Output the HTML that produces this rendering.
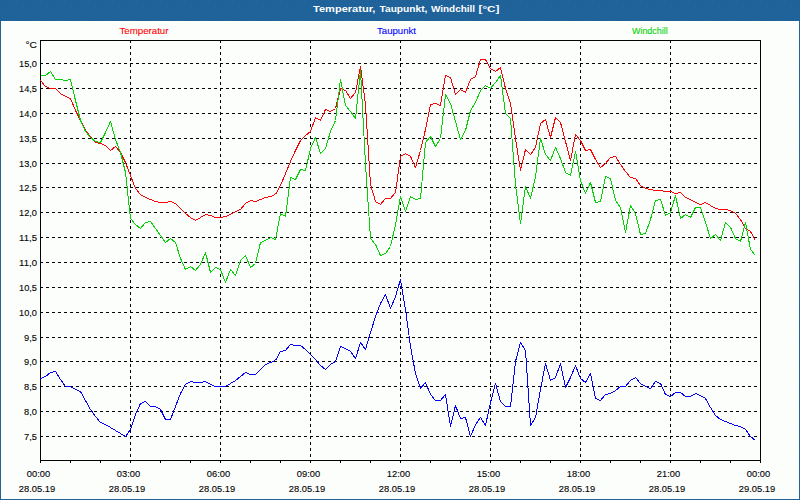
<!DOCTYPE html>
<html lang="de"><head><meta charset="utf-8"><title>Temperatur, Taupunkt, Windchill</title>
<style>
html,body{margin:0;padding:0;}
body{width:800px;height:500px;overflow:hidden;background:#1e6298;font-family:"Liberation Sans",sans-serif;}
svg{display:block;}
text{font-family:"Liberation Sans",sans-serif;font-size:9.8px;}
.t{fill:#040204;stroke:#040204;stroke-width:0.12px;}
</style></head><body>
<svg width="800" height="500" viewBox="0 0 800 500">
<defs><pattern id="dz" width="24" height="15" patternUnits="userSpaceOnUse"><rect width="24" height="15" fill="#1e6298"/><path d="M5 0h1v1h-1zM8 0h1v1h-1zM11 0h1v1h-1zM16 0h1v1h-1zM18 1h1v1h-1zM2 2h1v1h-1zM13 2h1v1h-1zM21 2h1v1h-1zM4 3h1v1h-1zM7 3h1v1h-1zM10 3h1v1h-1zM17 3h1v1h-1zM15 4h1v1h-1zM23 4h1v1h-1zM2 5h1v1h-1zM8 5h1v1h-1zM12 5h1v1h-1zM20 5h1v1h-1zM5 6h1v1h-1zM17 6h1v1h-1zM10 7h1v1h-1zM14 7h1v1h-1zM23 7h1v1h-1zM1 8h1v1h-1zM4 8h1v1h-1zM7 8h1v1h-1zM19 8h1v1h-1zM9 9h1v1h-1zM13 9h1v1h-1zM17 9h1v1h-1zM21 9h1v1h-1zM2 11h1v1h-1zM5 11h1v1h-1zM8 11h1v1h-1zM12 11h1v1h-1zM16 11h1v1h-1zM20 11h1v1h-1zM3 13h1v1h-1zM10 13h1v1h-1zM14 13h1v1h-1zM18 13h1v1h-1zM22 13h1v1h-1zM7 14h1v1h-1z" fill="#2565ac" shape-rendering="crispEdges"/></pattern></defs>
<rect x="0" y="0" width="800" height="500" fill="url(#dz)"/>
<rect x="1" y="21" width="798" height="478" fill="#fcfefc"/>
<text y="12" fill="#fff" font-weight="bold" style="font-size:9.6px" xml:space="preserve"><tspan x="313" textLength="65.5" lengthAdjust="spacingAndGlyphs">Temperatur, </tspan><tspan x="379.5" textLength="50.8" lengthAdjust="spacingAndGlyphs">Taupunkt, </tspan><tspan x="431" textLength="46.8" lengthAdjust="spacingAndGlyphs">Windchill </tspan><tspan x="478.5" textLength="21" lengthAdjust="spacingAndGlyphs">[°C]</tspan></text>
<text x="119.5" y="34" textLength="49" lengthAdjust="spacingAndGlyphs" fill="#ff0000" stroke="#ff0000" stroke-width="0.1">Temperatur</text>
<text x="377" y="34" textLength="39" lengthAdjust="spacingAndGlyphs" fill="#0000ff" stroke="#0000ff" stroke-width="0.1">Taupunkt</text>
<text x="632" y="34" textLength="35.7" lengthAdjust="spacingAndGlyphs" fill="#00d200" stroke="#00d200" stroke-width="0.1">Windchill</text>
<path d="M40 63.5H760M40 88.5H760M40 113.5H760M40 138.5H760M40 163.5H760M40 187.5H760M40 212.5H760M40 237.5H760M40 262.5H760M40 287.5H760M40 312.5H760M40 337.5H760M40 361.5H760M40 386.5H760M40 411.5H760M40 436.5H760M130.5 40V460M220.5 40V460M310.5 40V460M400.5 40V460M490.5 40V460M580.5 40V460M670.5 40V460" stroke="#040204" stroke-width="1" stroke-dasharray="3 3" fill="none" shape-rendering="crispEdges"/>
<path d="M40.5 40.5H760.5V460.5H40.5Z" stroke="#040204" stroke-width="1" fill="none" shape-rendering="crispEdges"/>
<path d="M40.5 460V463M70.5 460V463M100.5 460V463M130.5 460V463M160.5 460V463M190.5 460V463M220.5 460V463M250.5 460V463M280.5 460V463M310.5 460V463M340.5 460V463M370.5 460V463M400.5 460V463M430.5 460V463M460.5 460V463M490.5 460V463M520.5 460V463M550.5 460V463M580.5 460V463M610.5 460V463M640.5 460V463M670.5 460V463M700.5 460V463M730.5 460V463M760.5 460V463" stroke="#040204" stroke-width="1" fill="none" shape-rendering="crispEdges"/>
<text x="25.5" y="48" textLength="11.5" lengthAdjust="spacingAndGlyphs" class="t">°C</text>
<text x="37" y="67" text-anchor="end" textLength="18" lengthAdjust="spacingAndGlyphs" class="t">15,0</text>
<text x="37" y="92" text-anchor="end" textLength="18" lengthAdjust="spacingAndGlyphs" class="t">14,5</text>
<text x="37" y="117" text-anchor="end" textLength="18" lengthAdjust="spacingAndGlyphs" class="t">14,0</text>
<text x="37" y="142" text-anchor="end" textLength="18" lengthAdjust="spacingAndGlyphs" class="t">13,5</text>
<text x="37" y="167" text-anchor="end" textLength="18" lengthAdjust="spacingAndGlyphs" class="t">13,0</text>
<text x="37" y="191" text-anchor="end" textLength="18" lengthAdjust="spacingAndGlyphs" class="t">12,5</text>
<text x="37" y="216" text-anchor="end" textLength="18" lengthAdjust="spacingAndGlyphs" class="t">12,0</text>
<text x="37" y="241" text-anchor="end" textLength="18" lengthAdjust="spacingAndGlyphs" class="t">11,5</text>
<text x="37" y="266" text-anchor="end" textLength="18" lengthAdjust="spacingAndGlyphs" class="t">11,0</text>
<text x="37" y="291" text-anchor="end" textLength="18" lengthAdjust="spacingAndGlyphs" class="t">10,5</text>
<text x="37" y="316" text-anchor="end" textLength="18" lengthAdjust="spacingAndGlyphs" class="t">10,0</text>
<text x="37" y="341" text-anchor="end" textLength="12.9" lengthAdjust="spacingAndGlyphs" class="t">9,5</text>
<text x="37" y="365" text-anchor="end" textLength="12.9" lengthAdjust="spacingAndGlyphs" class="t">9,0</text>
<text x="37" y="390" text-anchor="end" textLength="12.9" lengthAdjust="spacingAndGlyphs" class="t">8,5</text>
<text x="37" y="415" text-anchor="end" textLength="12.9" lengthAdjust="spacingAndGlyphs" class="t">8,0</text>
<text x="37" y="440" text-anchor="end" textLength="12.9" lengthAdjust="spacingAndGlyphs" class="t">7,5</text>
<text x="26.8" y="477" textLength="23.4" lengthAdjust="spacingAndGlyphs" class="t">00:00</text>
<text x="18.8" y="492" textLength="36.4" lengthAdjust="spacingAndGlyphs" class="t">28.05.19</text>
<text x="116.8" y="477" textLength="23.4" lengthAdjust="spacingAndGlyphs" class="t">03:00</text>
<text x="108.8" y="492" textLength="36.4" lengthAdjust="spacingAndGlyphs" class="t">28.05.19</text>
<text x="206.8" y="477" textLength="23.4" lengthAdjust="spacingAndGlyphs" class="t">06:00</text>
<text x="198.8" y="492" textLength="36.4" lengthAdjust="spacingAndGlyphs" class="t">28.05.19</text>
<text x="296.8" y="477" textLength="23.4" lengthAdjust="spacingAndGlyphs" class="t">09:00</text>
<text x="288.8" y="492" textLength="36.4" lengthAdjust="spacingAndGlyphs" class="t">28.05.19</text>
<text x="386.8" y="477" textLength="23.4" lengthAdjust="spacingAndGlyphs" class="t">12:00</text>
<text x="378.8" y="492" textLength="36.4" lengthAdjust="spacingAndGlyphs" class="t">28.05.19</text>
<text x="476.8" y="477" textLength="23.4" lengthAdjust="spacingAndGlyphs" class="t">15:00</text>
<text x="468.8" y="492" textLength="36.4" lengthAdjust="spacingAndGlyphs" class="t">28.05.19</text>
<text x="566.8" y="477" textLength="23.4" lengthAdjust="spacingAndGlyphs" class="t">18:00</text>
<text x="558.8" y="492" textLength="36.4" lengthAdjust="spacingAndGlyphs" class="t">28.05.19</text>
<text x="656.8" y="477" textLength="23.4" lengthAdjust="spacingAndGlyphs" class="t">21:00</text>
<text x="648.8" y="492" textLength="36.4" lengthAdjust="spacingAndGlyphs" class="t">28.05.19</text>
<text x="746.8" y="477" textLength="23.4" lengthAdjust="spacingAndGlyphs" class="t">00:00</text>
<text x="738.8" y="492" textLength="36.4" lengthAdjust="spacingAndGlyphs" class="t">29.05.19</text>
<polyline points="40.5,80.5 45.5,86.5 50.5,88.5 55.5,88.5 60.5,93.5 65.5,96.5 70.5,98.5 75.5,110.5 80.5,120.5 85.5,130.5 90.5,136.5 95.5,142.5 100.5,143.5 105.5,145.5 110.5,150.5 115.5,146.5 120.5,152.5 125.5,162.5 130.5,175.5 135.5,188.5 140.5,194.5 145.5,197.5 150.5,199.5 155.5,201.5 160.5,202.5 165.5,202.5 170.5,201.5 175.5,203.5 180.5,208.5 185.5,213.5 190.5,217.5 195.5,220.5 200.5,217.5 205.5,214.5 210.5,215.5 215.5,217.5 220.5,217.5 225.5,216.5 230.5,214.5 235.5,211.5 240.5,209.5 245.5,203.5 250.5,200.5 255.5,201.5 260.5,199.5 265.5,197.5 270.5,196.5 275.5,194.5 280.5,185.5 285.5,173.5 290.5,161.5 295.5,150.5 300.5,140.5 305.5,135.5 310.5,131.5 315.5,117.5 320.5,120.5 325.5,109.5 330.5,111.5 335.5,108.5 340.5,88.5 345.5,90.5 350.5,98.5 355.5,92.5 360.5,66.5 365.5,104.5 370.5,184.5 375.5,201.5 380.5,204.5 385.5,198.5 390.5,198.5 395.5,192.5 400.5,156.5 405.5,153.5 410.5,156.5 415.5,167.5 420.5,150.5 425.5,129.5 430.5,104.5 435.5,103.5 440.5,105.5 445.5,75.5 450.5,77.5 455.5,94.5 460.5,89.5 465.5,92.5 470.5,79.5 475.5,76.5 480.5,59.5 485.5,59.5 490.5,68.5 495.5,71.5 500.5,67.5 505.5,88.5 510.5,103.5 515.5,138.5 520.5,170.5 525.5,149.5 530.5,154.5 535.5,147.5 540.5,123.5 545.5,119.5 550.5,137.5 555.5,117.5 560.5,122.5 565.5,141.5 570.5,160.5 575.5,134.5 580.5,140.5 585.5,150.5 590.5,149.5 595.5,159.5 600.5,167.5 605.5,163.5 610.5,157.5 615.5,156.5 620.5,164.5 625.5,171.5 630.5,177.5 635.5,178.5 640.5,185.5 645.5,188.5 650.5,189.5 655.5,190.5 660.5,190.5 665.5,191.5 670.5,191.5 675.5,193.5 680.5,192.5 685.5,197.5 690.5,199.5 695.5,202.5 700.5,204.5 705.5,202.5 710.5,205.5 715.5,208.5 720.5,209.5 725.5,209.5 730.5,210.5 735.5,213.5 740.5,219.5 745.5,228.5 750.5,231.5 755.5,240.5" stroke="#fc0204" stroke-width="1" stroke-linejoin="bevel" fill="none" shape-rendering="crispEdges"/>
<polyline points="40.5,75.5 45.5,75.5 50.5,71.5 55.5,79.5 60.5,79.5 65.5,80.5 70.5,79.5 75.5,100.5 80.5,120.5 85.5,131.5 90.5,137.5 95.5,141.5 100.5,142.5 105.5,132.5 110.5,121.5 115.5,139.5 120.5,152.5 125.5,172.5 130.5,218.5 135.5,224.5 140.5,228.5 145.5,222.5 150.5,221.5 155.5,228.5 160.5,235.5 165.5,242.5 170.5,238.5 175.5,242.5 180.5,258.5 185.5,269.5 190.5,266.5 195.5,270.5 200.5,264.5 205.5,252.5 210.5,272.5 215.5,267.5 220.5,269.5 225.5,282.5 230.5,269.5 235.5,275.5 240.5,260.5 245.5,255.5 250.5,267.5 255.5,263.5 260.5,242.5 265.5,240.5 270.5,237.5 275.5,239.5 280.5,213.5 285.5,216.5 290.5,177.5 295.5,179.5 300.5,169.5 305.5,170.5 310.5,148.5 315.5,137.5 320.5,153.5 325.5,148.5 330.5,131.5 335.5,120.5 340.5,79.5 345.5,105.5 350.5,111.5 355.5,118.5 360.5,70.5 365.5,164.5 370.5,238.5 375.5,244.5 380.5,255.5 385.5,253.5 390.5,246.5 395.5,224.5 400.5,196.5 405.5,211.5 410.5,196.5 415.5,199.5 420.5,198.5 425.5,142.5 430.5,136.5 435.5,146.5 440.5,138.5 445.5,94.5 450.5,103.5 455.5,121.5 460.5,139.5 465.5,130.5 470.5,110.5 475.5,102.5 480.5,90.5 485.5,85.5 490.5,88.5 495.5,82.5 500.5,75.5 505.5,113.5 510.5,118.5 515.5,184.5 520.5,223.5 525.5,186.5 530.5,198.5 535.5,176.5 540.5,138.5 545.5,154.5 550.5,160.5 555.5,147.5 560.5,158.5 565.5,172.5 570.5,175.5 575.5,151.5 580.5,180.5 585.5,193.5 590.5,182.5 595.5,202.5 600.5,201.5 605.5,176.5 610.5,178.5 615.5,200.5 620.5,207.5 625.5,232.5 630.5,205.5 635.5,213.5 640.5,234.5 645.5,233.5 650.5,219.5 655.5,200.5 660.5,199.5 665.5,215.5 670.5,212.5 675.5,195.5 680.5,218.5 685.5,214.5 690.5,217.5 695.5,207.5 700.5,207.5 705.5,222.5 710.5,238.5 715.5,234.5 720.5,240.5 725.5,222.5 730.5,227.5 735.5,238.5 740.5,241.5 745.5,222.5 750.5,249.5 755.5,255.5" stroke="#04d204" stroke-width="1" stroke-linejoin="bevel" fill="none" shape-rendering="crispEdges"/>
<polyline points="40.5,378.5 45.5,376.5 50.5,372.5 55.5,371.5 60.5,379.5 65.5,386.5 70.5,386.5 75.5,389.5 80.5,391.5 85.5,400.5 90.5,409.5 95.5,416.5 100.5,422.5 105.5,424.5 110.5,427.5 115.5,430.5 120.5,433.5 125.5,436.5 130.5,429.5 135.5,414.5 140.5,403.5 145.5,401.5 150.5,406.5 155.5,406.5 160.5,409.5 165.5,419.5 170.5,419.5 175.5,406.5 180.5,393.5 185.5,384.5 190.5,381.5 195.5,382.5 200.5,382.5 205.5,381.5 210.5,384.5 215.5,386.5 220.5,386.5 225.5,386.5 230.5,383.5 235.5,380.5 240.5,376.5 245.5,372.5 250.5,374.5 255.5,374.5 260.5,369.5 265.5,364.5 270.5,362.5 275.5,360.5 280.5,351.5 285.5,350.5 290.5,344.5 295.5,345.5 300.5,345.5 305.5,349.5 310.5,354.5 315.5,359.5 320.5,365.5 325.5,369.5 330.5,364.5 335.5,361.5 340.5,346.5 345.5,348.5 350.5,351.5 355.5,358.5 360.5,342.5 365.5,349.5 370.5,332.5 375.5,316.5 380.5,303.5 385.5,294.5 390.5,308.5 395.5,296.5 400.5,279.5 405.5,309.5 410.5,346.5 415.5,373.5 420.5,388.5 425.5,382.5 430.5,394.5 435.5,400.5 440.5,400.5 445.5,394.5 450.5,426.5 455.5,405.5 460.5,418.5 465.5,417.5 470.5,436.5 475.5,424.5 480.5,417.5 485.5,425.5 490.5,402.5 495.5,383.5 500.5,401.5 505.5,406.5 510.5,406.5 515.5,361.5 520.5,342.5 525.5,350.5 530.5,425.5 535.5,417.5 540.5,389.5 545.5,363.5 550.5,380.5 555.5,377.5 560.5,363.5 565.5,387.5 570.5,377.5 575.5,365.5 580.5,378.5 585.5,382.5 590.5,373.5 595.5,398.5 600.5,400.5 605.5,394.5 610.5,393.5 615.5,390.5 620.5,386.5 625.5,386.5 630.5,380.5 635.5,377.5 640.5,383.5 645.5,386.5 650.5,388.5 655.5,381.5 660.5,383.5 665.5,394.5 670.5,396.5 675.5,392.5 680.5,392.5 685.5,396.5 690.5,396.5 695.5,393.5 700.5,395.5 705.5,398.5 710.5,407.5 715.5,415.5 720.5,419.5 725.5,421.5 730.5,423.5 735.5,425.5 740.5,426.5 745.5,429.5 750.5,436.5 755.5,440.5" stroke="#0402fc" stroke-width="1" stroke-linejoin="bevel" fill="none" shape-rendering="crispEdges"/>
</svg></body></html>
